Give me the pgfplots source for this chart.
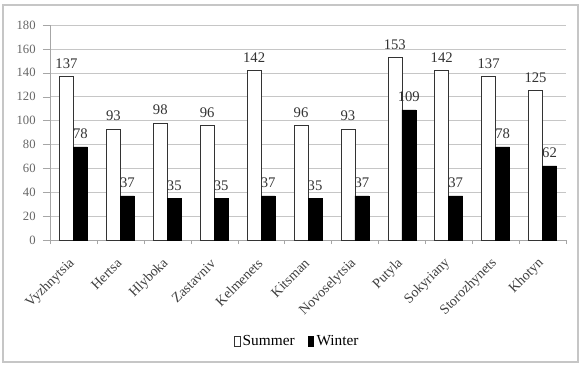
\documentclass[border=0pt]{standalone}
\usepackage{pgfplots}
\pgfplotsset{compat=1.18}
\usepackage{fontspec}
\setmainfont{Liberation Serif}

% one unit of the layout grid
\newlength{\px}
\setlength{\px}{0.75pt}

\pgfplotstableread{
idx name      summer winter
0  Vyzhnytsia    137  78
1  Hertsa         93  37
2  Hlyboka        98  35
3  Zastavniv      96  35
4  Kelmenets     142  37
5  Kitsman        96  35
6  Novoselytsia   93  37
7  Putyla        153 109
8  Sokyriany     142  37
9  Storozhynets  137  78
10 Khotyn        125  62
}\datatable

\begin{document}
\begin{tikzpicture}[x=\px,y=\px]
  % page and outer frame
  \useasboundingbox (0,0) rectangle (581,365);
  \fill[white] (0,0) rectangle (581,365);
  \draw[gray!45, line width=1.2\px] (3,3) rectangle (578,360);
  \begin{axis}[
    at={(50\px,125\px)}, anchor=south west,
    scale only axis,
    width=516\px, height=215\px,
    xmin=-0.5, xmax=10.5,
    ymin=0, ymax=180,
    ytick={0,20,...,180},
    xtick={0,...,10},
    xticklabels={Vyzhnytsia,Hertsa,Hlyboka,Zastavniv,Kelmenets,Kitsman,Novoselytsia,Putyla,Sokyriany,Storozhynets,Khotyn},
    minor xtick={-0.5,0.5,...,10.5},
    x tick label style={rotate=45, anchor=east, font=\fontsize{10.5}{11}\selectfont, text=black!75, inner sep=0pt, xshift=-8pt, yshift=-7pt},
    y tick label style={font=\fontsize{9.5}{10}\selectfont, text=black!60, xshift=-2pt},
    /pgf/number format/assume math mode=true,
    axis x line*=bottom, axis y line*=left,
    axis line style={gray!70},
    major x tick style={draw=none},
    minor x tick style={gray!70},
    ytick style={gray!70},
    tick align=outside,
    major tick length=7\px, minor tick length=4\px,
    ymajorgrids, grid style={gray!45},
    ybar, bar width=14\px,
    nodes near coords,
    every node near coord/.append style={font=\fontsize{11}{12}\selectfont, text=black!80, yshift=2.5pt},
    legend style={at={(0.48,-0.474)}, anchor=center, draw=none, legend columns=2,
      font=\fontsize{11.5}{12}\selectfont, /tikz/every even column/.append style={column sep=8pt}},
    legend image code/.code={\draw[#1] (1pt,-3pt) rectangle (5pt,4pt);},
  ]
    \addplot[bar shift=-7\px, fill=white, draw=black!80] table[x=idx, y=summer] {\datatable};
    \addplot[bar shift=7\px, fill=black, draw=black] table[x=idx, y=winter] {\datatable};
    \legend{Summer, Winter}
  \end{axis}
\end{tikzpicture}
\end{document}
